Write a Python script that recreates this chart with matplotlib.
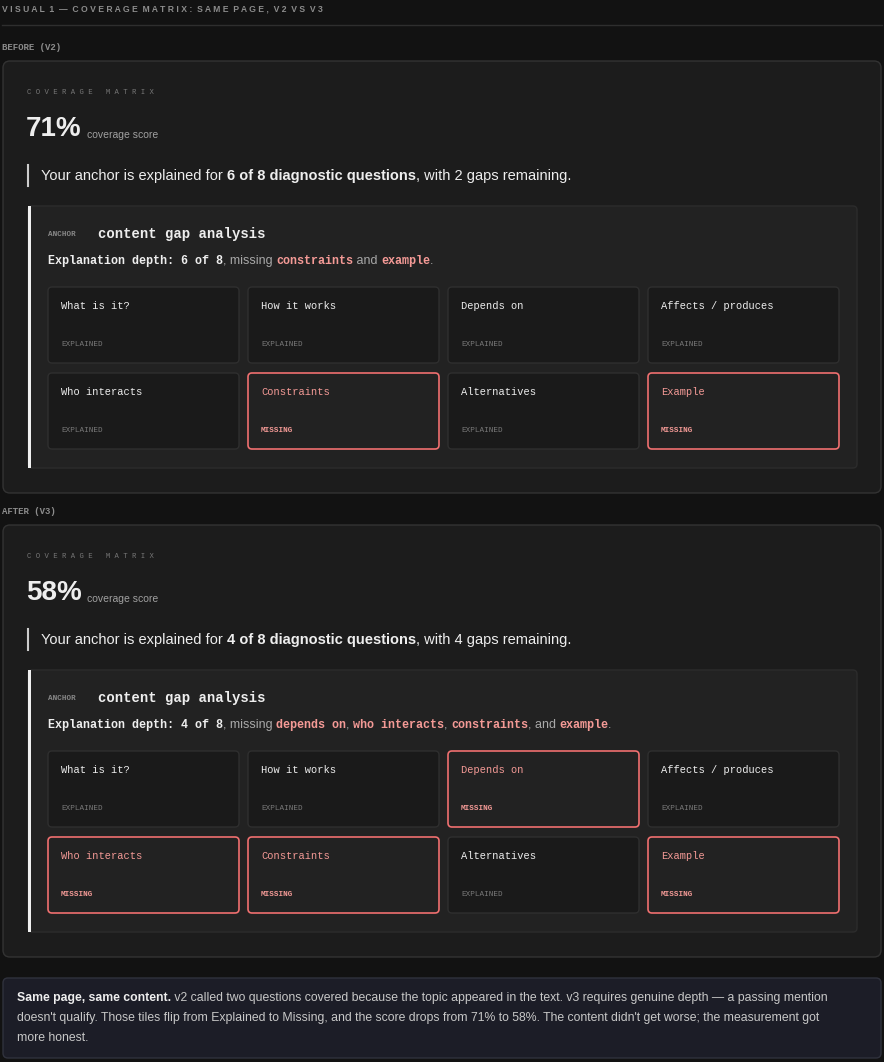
import matplotlib
matplotlib.use("Agg")
import matplotlib.pyplot as plt
from matplotlib.patches import FancyBboxPatch, Rectangle

questions = ["What is it?", "How it works", "Depends on", "Affects / produces",
             "Who interacts", "Constraints", "Alternatives", "Example"]
status_v2 = ["EXPLAINED", "EXPLAINED", "EXPLAINED", "EXPLAINED",
             "EXPLAINED", "MISSING", "EXPLAINED", "MISSING"]
status_v3 = ["EXPLAINED", "EXPLAINED", "MISSING", "EXPLAINED",
             "MISSING", "MISSING", "EXPLAINED", "MISSING"]
scores = ["71%", "58%"]
explained = ["6 of 8", "4 of 8"]
gaps = ["2", "4"]
section_labels = ["BEFORE (V2)", "AFTER (V3)"]

BG = "#121212"; PANEL = "#1c1c1c"; INNER = "#222222"; TILE = "#1a1a1a"
TB = "#2f2f2f"; RED = "#f07070"; REDT = "#f49a96"; GRAY = "#8c8c8c"; WHITE = "#eeeeee"
SANS = ["Liberation Sans", "DejaVu Sans"]; MONO = ["Liberation Mono", "DejaVu Sans Mono"]

fig = plt.figure(figsize=(8.84, 10.62), dpi=100, facecolor=BG)
ax = fig.add_axes([0, 0, 1, 1]); ax.set_xlim(0, 884); ax.set_ylim(1062, 0); ax.axis("off")
ax.set_facecolor(BG)
R = fig.canvas.get_renderer()

def seq(x, y, parts, va="center"):
    for s, kw in parts:
        t = ax.text(x, y, s, va=va, ha="left", **kw)
        bb = t.get_window_extent(renderer=R)
        x += bb.width
    return x

def rbox(x, y, w, h, fc, ec, lw=1, r=5):
    ax.add_patch(FancyBboxPatch((x, y), w, h, boxstyle=f"round,pad=0,rounding_size={r}",
                                fc=fc, ec=ec, lw=lw))

seq(2, 9, [(c, dict(fontsize=7, color=GRAY, fontweight="bold", family=SANS)) for c in
           " ".join("VISUAL 1 — COVERAGE MATRIX: SAME PAGE, V2 VS V3").split(" ") and
           list("VISUAL 1 — COVERAGE MATRIX: SAME PAGE, V2 VS V3")] if False else
    [("V I S U A L  1  —  C O V E R A G E  M A T R I X :  S A M E  P A G E ,  V 2  V S  V 3",
      dict(fontsize=6.2, color=GRAY, fontweight="bold", family=SANS))])
ax.plot([2, 882], [25, 25], color="#2e2e2e", lw=1)

for k in range(2):
    o = 464 * k
    st = [status_v2, status_v3][k]
    ax.text(2, 48 + o, section_labels[k], fontsize=6.5, color=GRAY, fontweight="bold",
            family=MONO, va="center")
    rbox(3, 61 + o, 878, 432, PANEL, "#333333", r=7)
    ax.text(27, 93 + o, "C O V E R A G E   M A T R I X", fontsize=5.2, color="#777777", family=MONO, va="center")
    xe = seq(26, 129 + o, [(scores[k], dict(fontsize=20, color=WHITE, fontweight="bold", family=SANS))])
    ax.text(xe + 5, 135 + o, "coverage score", fontsize=7.5, color="#a0a0a0", family=SANS, va="center")
    ax.plot([28, 28], [165 + o, 186 + o], color="#cccccc", lw=1.5)
    f = dict(fontsize=10.5, color=WHITE, family=SANS)
    fb = dict(f, fontweight="bold")
    seq(41, 176 + o, [("Your anchor is explained for ", f),
                      (f"{explained[k]} diagnostic questions", fb),
                      (f", with {gaps[k]} gaps remaining.", f)])
    rbox(28, 206 + o, 829, 262, INNER, "#2c2c2c", r=4)
    ax.add_patch(Rectangle((28, 206 + o), 3, 262, fc="#f0f0f0", ec="none"))
    ax.text(48, 235 + o, "ANCHOR", fontsize=5.5, color="#888888", family=MONO,
            fontweight="bold", va="center")
    ax.text(98, 234 + o, "content gap analysis", fontsize=10, color=WHITE, family=MONO,
            fontweight="bold", va="center")
    mb = dict(fontsize=8.5, color=WHITE, family=MONO, fontweight="bold")
    mr = dict(fontsize=8.5, color=REDT, family=MONO, fontweight="bold")
    sg = dict(fontsize=9, color="#a8a8a8", family=SANS)
    missing = [q.lower() for q, s in zip(questions, st) if s == "MISSING"]
    parts = [("Explanation depth: ", mb), (explained[k], mb), (", missing ", sg)]
    if len(missing) == 2:
        parts += [(missing[0], mr), (" and ", sg), (missing[1], mr), (".", sg)]
    else:
        for i, m in enumerate(missing):
            if i == len(missing) - 1:
                parts += [("and ", sg), (m, mr), (".", sg)]
            else:
                parts += [(m, mr), (", ", sg)]
    seq(48, 261 + o, parts)
    for i, (q, s) in enumerate(zip(questions, st)):
        tx = 48 + 200 * (i % 4); ty = 287 + o + 86 * (i // 4)
        miss = s == "MISSING"
        rbox(tx, ty, 191, 76, INNER if miss else TILE, RED if miss else TB, lw=1.2 if miss else 1, r=4)
        ax.text(tx + 13, ty + 19, q, fontsize=7.5, color=REDT if miss else WHITE, family=MONO, va="center")
        ax.text(tx + 13, ty + 57, s, fontsize=5.5, color=REDT if miss else "#7a7a7a", family=MONO,
                fontweight="bold" if miss else "normal", va="center")

rbox(3, 978, 878, 80, "#1c1d27", "#30323d", r=5)
fn = dict(fontsize=8.8, color="#c8c8c8", family=SANS)
seq(17, 998, [("Same page, same content.", dict(fn, color=WHITE, fontweight="bold")),
              (" v2 called two questions covered because the topic appeared in the text. v3 requires genuine depth — a passing mention", fn)])
ax.text(17, 1018, "doesn't qualify. Those tiles flip from Explained to Missing, and the score drops from 71% to 58%. The content didn't get worse; the measurement got", va="center", **fn)
ax.text(17, 1038, "more honest.", va="center", **fn)

fig.savefig("out.png", dpi=100, facecolor=BG)
